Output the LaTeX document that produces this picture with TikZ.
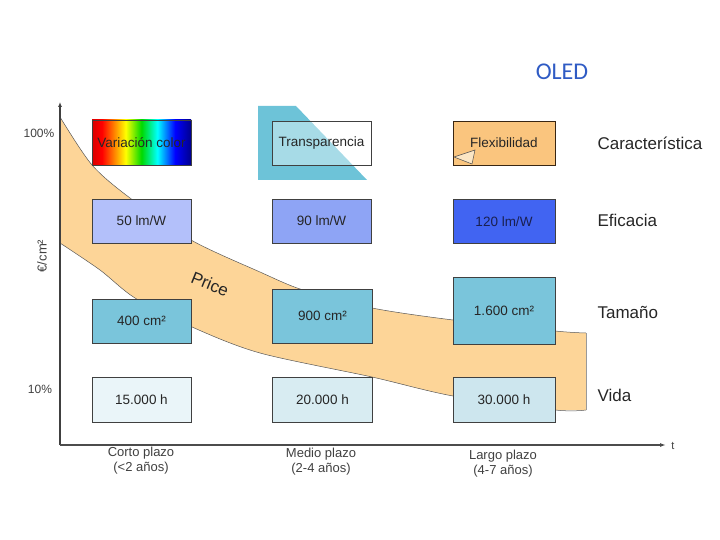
\documentclass[tikz,border=0pt]{standalone}
\usepackage{fontspec}
\setmainfont{Liberation Sans}
\newfontfamily\oledfont{Carlito}
\usetikzlibrary{arrows.meta}
\definecolor{bandorange}{HTML}{FDD598}
\definecolor{flexorange}{HTML}{FAC57E}
\definecolor{curlbeige}{HTML}{FBE6C4}
\definecolor{transteal}{HTML}{6DC3D8}
\definecolor{efica}{HTML}{B3C0FA}
\definecolor{eficb}{HTML}{8EA4F5}
\definecolor{eficc}{HTML}{4164F2}
\definecolor{sizeblue}{HTML}{7AC5DB}
\definecolor{lifea}{HTML}{EAF5F9}
\definecolor{lifeb}{HTML}{D8ECF2}
\definecolor{lifec}{HTML}{CDE6EE}
\definecolor{oledblue}{HTML}{2F5BC4}
\definecolor{navytext}{HTML}{1A2050}
\pgfdeclarehorizontalshading{rainbowcolor}{100bp}{color(0bp)=(red!85!black); color(25bp)=(red!85!black);
  color(30bp)=(red); color(36bp)=(orange); color(42bp)=(yellow); color(50bp)=(green!85!black);
  color(58bp)=(cyan); color(67bp)=(blue); color(75bp)=(blue!55!black); color(100bp)=(blue!55!black)}

\begin{document}
\begin{tikzpicture}[x=1pt,y=-1pt,>=Latex,
 bx/.style={draw=black!75,line width=0.7pt,minimum width=99pt,minimum height=44pt,
   inner sep=0pt,text=black!85,font=\fontsize{13.5}{15}\selectfont},
 rl/.style={anchor=west,text=black!85,font=\fontsize{17}{19}\selectfont},
 ax/.style={text=black!75,font=\fontsize{12}{14}\selectfont},
 tl/.style={align=center,text=black!75,font=\fontsize{13}{15}\selectfont},
 edge/.style={draw=black!65,line width=0.5pt}]
\useasboundingbox (0,0) rectangle (720,540);
% price band
\fill[bandorange] plot[smooth] coordinates {(60,117) (92,165) (130,198) (191,240) (260,272)
  (303,290) (372,308) (453,320) (555,331) (586,333)}
  -- (586,410) -- plot[smooth] coordinates {(555,410) (453,396) (372,377) (260,353)
  (192,327) (135,298) (100,270) (60,243)} -- cycle;
\draw[edge] plot[smooth] coordinates {(60,117) (92,165) (130,198) (191,240) (260,272)
  (303,290) (372,308) (453,320) (555,331) (586,333)};
\draw[edge] plot[smooth] coordinates {(60,243) (100,270) (135,298) (192,327) (260,353)
  (372,377) (453,396) (555,410) (586,410)};
\draw[draw=black!40,line width=0.4pt] (586,333) -- (586,410);
\node[rotate=-22,text=black!85,font=\fontsize{17}{19}\selectfont] (price) at (210,284) {Price};
% axes
\coordinate (orig) at (60,445);
\coordinate (ytop) at (60,102);
\coordinate (xend) at (666,445);
\draw[-{Latex[length=5pt,width=4pt]},line width=1.3pt,black!75] (orig) -- (ytop);
\draw[-{Latex[length=6pt,width=4pt]},line width=2pt,black!70] (orig) -- (xend);
\node[ax] (p100) at (39,133) {100\%};
\node[ax] (p10) at (40,389) {10\%};
\node[ax,rotate=90,font=\fontsize{13}{14}\selectfont] (unit) at (42,256) {€/cm²};
\node[ax,font=\fontsize{11}{12}\selectfont] (tlab) at (673,446) {t};
% row 1: caracteristica
\node[bx,shading=rainbowcolor,minimum height=45pt] (varcolor) at (141.5,142.5) {Variación color};
\fill[transteal] (258,106) -- (296,106) -- (367,180) -- (258,180) -- cycle;
\node[bx,fill=white,fill opacity=0.4,text opacity=1] (transp) at (321.5,143) {Transparencia};
\node[bx,fill=flexorange,draw=black!70!brown,minimum width=102pt] (flex) at (504,143) {Flexibilidad};
\filldraw[fill=curlbeige,draw=black!70,line width=0.5pt] (454,157) -- (475,150) -- (472,164) -- cycle;
% row 2: eficacia
\node[bx,fill=efica] (efic50) at (141.5,221) {50 lm/W};
\node[bx,fill=eficb] (efic90) at (321.5,221) {90 lm/W};
\node[bx,fill=eficc,text=navytext,minimum width=102pt] (efic120) at (504,221.5) {120 lm/W};
% row 3: tamano
\node[bx,fill=sizeblue] (size400) at (141.5,321) {400 cm²};
\node[bx,fill=sizeblue,minimum width=100pt,minimum height=54pt] (size900) at (322.5,316) {900 cm²};
\node[bx,fill=sizeblue,minimum width=102pt,minimum height=67pt] (size1600) at (504,310.5) {1.600 cm²};
% row 4: vida
\node[bx,fill=lifea,minimum height=45pt] (life15) at (141.5,399.5) {15.000 h};
\node[bx,fill=lifeb,minimum width=100pt,minimum height=45pt] (life20) at (322.5,399.5) {20.000 h};
\node[bx,fill=lifec,minimum width=102pt,minimum height=45pt] (life30) at (504,399.5) {30.000 h};
% row labels
\node[rl] (carac) at (594,143) {Característica};
\node[rl] (efic) at (594,220) {Eficacia};
\node[rl] (tamano) at (594,312) {Tamaño};
\node[rl] (vida) at (594,395) {Vida};
% time labels
\node[tl] (corto) at (141,461) {Corto plazo\\(<2 años)};
\node[tl] (medio) at (321,462) {Medio plazo\\(2-4 años)};
\node[tl] (largo) at (503,464) {Largo plazo\\(4-7 años)};
\node[text=oledblue,font=\oledfont\fontsize{24}{26}\selectfont] (oled) at (562,72) {OLED};
\end{tikzpicture}
\end{document}
